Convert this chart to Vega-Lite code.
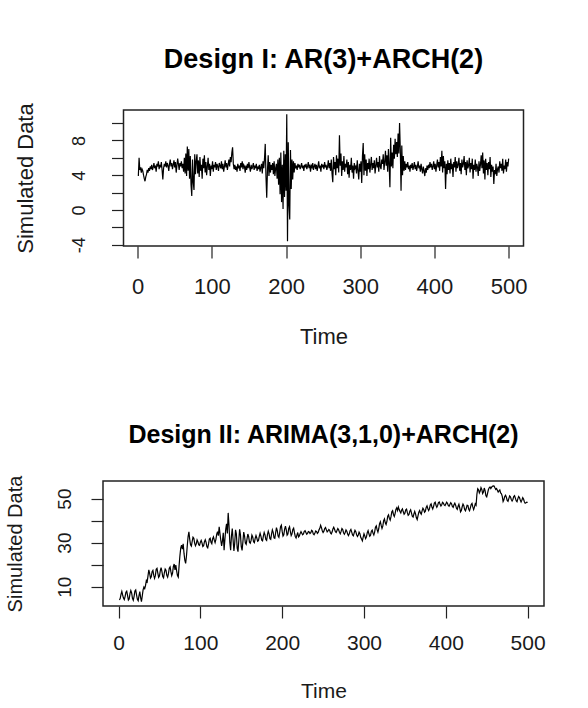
{
"$schema": "https://vega.github.io/schema/vega-lite/v6.json",
"background": "white",
"padding": {"left": 4, "top": 45, "right": 0, "bottom": 0},
"bounds": "flush",
"center": true,
"spacing": 235,
"data": {"values": [
{"t":1,"a":3.9,"b":4.0},{"t":2,"a":6.0,"b":4.6},{"t":3,"a":4.6,"b":6.5},{"t":4,"a":4.9,"b":7.8},{"t":5,"a":4.3,"b":6.2},
{"t":6,"a":4.7,"b":4.8},{"t":7,"a":4.5,"b":4.1},{"t":8,"a":4.0,"b":5.5},{"t":9,"a":3.6,"b":7.4},{"t":10,"a":3.3,"b":7.9},
{"t":11,"a":3.8,"b":6.0},{"t":12,"a":4.1,"b":3.9},{"t":13,"a":4.6,"b":4.4},{"t":14,"a":4.3,"b":6.8},{"t":15,"a":4.8,"b":8.2},
{"t":16,"a":4.5,"b":7.1},{"t":17,"a":5.0,"b":4.7},{"t":18,"a":4.7,"b":3.8},{"t":19,"a":5.2,"b":5.6},{"t":20,"a":4.6,"b":8.0},
{"t":21,"a":4.9,"b":8.5},{"t":22,"a":5.4,"b":6.3},{"t":23,"a":4.8,"b":4.2},{"t":24,"a":5.1,"b":3.6},{"t":25,"a":4.4,"b":5.9},
{"t":26,"a":5.3,"b":7.7},{"t":27,"a":5.0,"b":5.0},{"t":28,"a":5.6,"b":3.2},{"t":29,"a":4.7,"b":5.8},{"t":30,"a":5.2,"b":8.5},
{"t":31,"a":4.9,"b":9.8},{"t":32,"a":5.5,"b":9.1},{"t":33,"a":4.6,"b":10.6},{"t":34,"a":3.5,"b":12.8},{"t":35,"a":4.8,"b":12.2},
{"t":36,"a":5.3,"b":14.9},{"t":37,"a":5.0,"b":17.6},{"t":38,"a":5.6,"b":16.0},{"t":39,"a":4.9,"b":13.9},{"t":40,"a":5.4,"b":14.5},
{"t":41,"a":5.1,"b":16.8},{"t":42,"a":4.5,"b":17.4},{"t":43,"a":5.3,"b":15.2},{"t":44,"a":5.8,"b":13.8},{"t":45,"a":5.0,"b":15.0},
{"t":46,"a":5.4,"b":17.9},{"t":47,"a":4.7,"b":18.3},{"t":48,"a":5.2,"b":16.1},{"t":49,"a":5.7,"b":14.2},{"t":50,"a":4.9,"b":14.8},
{"t":51,"a":5.5,"b":17.2},{"t":52,"a":4.3,"b":18.6},{"t":53,"a":5.1,"b":16.9},{"t":54,"a":5.9,"b":14.6},{"t":55,"a":5.3,"b":14.0},
{"t":56,"a":4.6,"b":16.3},{"t":57,"a":5.4,"b":18.0},{"t":58,"a":5.0,"b":17.5},{"t":59,"a":5.6,"b":15.1},{"t":60,"a":4.8,"b":14.3},
{"t":61,"a":5.3,"b":15.9},{"t":62,"a":4.4,"b":18.4},{"t":63,"a":6.0,"b":19.0},{"t":64,"a":4.2,"b":16.8},{"t":65,"a":6.5,"b":15.0},
{"t":66,"a":3.9,"b":16.1},{"t":67,"a":7.3,"b":19.2},{"t":68,"a":4.5,"b":20.3},{"t":69,"a":7.0,"b":17.6},{"t":70,"a":3.6,"b":19.8},
{"t":71,"a":6.2,"b":17.2},{"t":72,"a":2.9,"b":15.0},{"t":73,"a":1.6,"b":14.3},{"t":74,"a":5.8,"b":19.5},{"t":75,"a":3.2,"b":24.0},
{"t":76,"a":2.3,"b":27.5},{"t":77,"a":6.4,"b":28.9},{"t":78,"a":4.1,"b":27.0},{"t":79,"a":5.6,"b":29.5},{"t":80,"a":6.4,"b":25.2},
{"t":81,"a":4.2,"b":22.0},{"t":82,"a":5.7,"b":20.6},{"t":83,"a":3.8,"b":23.8},{"t":84,"a":6.1,"b":28.6},{"t":85,"a":4.5,"b":32.8},
{"t":86,"a":5.2,"b":34.9},{"t":87,"a":3.6,"b":31.5},{"t":88,"a":5.9,"b":29.0},{"t":89,"a":4.8,"b":28.4},{"t":90,"a":6.3,"b":30.6},
{"t":91,"a":4.3,"b":32.5},{"t":92,"a":5.5,"b":32.0},{"t":93,"a":4.0,"b":29.8},{"t":94,"a":5.0,"b":28.6},{"t":95,"a":6.0,"b":29.5},
{"t":96,"a":4.6,"b":31.2},{"t":97,"a":5.3,"b":30.4},{"t":98,"a":3.9,"b":29.0},{"t":99,"a":5.1,"b":28.8},{"t":100,"a":4.7,"b":30.2},
{"t":101,"a":5.6,"b":31.0},{"t":102,"a":4.4,"b":29.9},{"t":103,"a":5.2,"b":28.2},{"t":104,"a":4.9,"b":28.6},{"t":105,"a":5.5,"b":30.4},
{"t":106,"a":4.6,"b":31.3},{"t":107,"a":5.3,"b":30.1},{"t":108,"a":5.0,"b":28.1},{"t":109,"a":4.5,"b":27.6},{"t":110,"a":5.4,"b":29.4},
{"t":111,"a":5.1,"b":31.6},{"t":112,"a":4.8,"b":32.0},{"t":113,"a":5.6,"b":30.2},{"t":114,"a":4.7,"b":29.5},{"t":115,"a":5.3,"b":31.8},
{"t":116,"a":4.4,"b":32.6},{"t":117,"a":5.0,"b":31.1},{"t":118,"a":5.7,"b":30.0},{"t":119,"a":4.9,"b":31.5},{"t":120,"a":5.4,"b":33.8},
{"t":121,"a":4.6,"b":35.0},{"t":122,"a":5.2,"b":33.2},{"t":123,"a":5.8,"b":37.2},{"t":124,"a":5.0,"b":34.0},{"t":125,"a":6.1,"b":31.0},
{"t":126,"a":5.5,"b":28.5},{"t":127,"a":6.6,"b":30.8},{"t":128,"a":7.2,"b":34.5},{"t":129,"a":5.3,"b":26.6},{"t":130,"a":4.7,"b":31.5},
{"t":131,"a":5.2,"b":36.0},{"t":132,"a":4.6,"b":38.5},{"t":133,"a":5.0,"b":34.2},{"t":134,"a":4.4,"b":43.5},{"t":135,"a":5.3,"b":37.8},
{"t":136,"a":4.8,"b":30.2},{"t":137,"a":5.1,"b":26.6},{"t":138,"a":4.5,"b":33.0},{"t":139,"a":5.4,"b":36.4},{"t":140,"a":4.9,"b":31.2},
{"t":141,"a":5.6,"b":26.2},{"t":142,"a":4.7,"b":29.8},{"t":143,"a":5.2,"b":35.8},{"t":144,"a":5.0,"b":34.0},{"t":145,"a":4.3,"b":27.5},
{"t":146,"a":5.1,"b":25.9},{"t":147,"a":4.6,"b":31.0},{"t":148,"a":5.3,"b":36.0},{"t":149,"a":4.8,"b":33.5},{"t":150,"a":5.5,"b":28.2},
{"t":151,"a":4.9,"b":26.5},{"t":152,"a":4.4,"b":30.4},{"t":153,"a":5.2,"b":34.8},{"t":154,"a":4.7,"b":33.0},{"t":155,"a":5.0,"b":29.8},
{"t":156,"a":5.4,"b":29.2},{"t":157,"a":4.6,"b":31.6},{"t":158,"a":5.1,"b":33.9},{"t":159,"a":4.8,"b":32.8},{"t":160,"a":5.3,"b":30.2},
{"t":161,"a":4.5,"b":29.7},{"t":162,"a":5.0,"b":31.0},{"t":163,"a":4.7,"b":33.4},{"t":164,"a":5.2,"b":32.6},{"t":165,"a":4.4,"b":30.4},
{"t":166,"a":4.9,"b":30.0},{"t":167,"a":5.3,"b":31.9},{"t":168,"a":4.2,"b":33.2},{"t":169,"a":5.6,"b":32.1},{"t":170,"a":4.8,"b":30.6},
{"t":171,"a":5.9,"b":30.9},{"t":172,"a":7.6,"b":32.8},{"t":173,"a":3.8,"b":34.2},{"t":174,"a":1.4,"b":32.9},{"t":175,"a":4.6,"b":31.1},
{"t":176,"a":6.3,"b":30.8},{"t":177,"a":3.9,"b":32.9},{"t":178,"a":5.5,"b":34.6},{"t":179,"a":4.3,"b":33.5},{"t":180,"a":5.2,"b":31.4},
{"t":181,"a":4.6,"b":31.0},{"t":182,"a":5.4,"b":33.6},{"t":183,"a":4.1,"b":35.2},{"t":184,"a":5.6,"b":34.0},{"t":185,"a":3.9,"b":31.8},
{"t":186,"a":4.8,"b":31.5},{"t":187,"a":5.3,"b":33.9},{"t":188,"a":3.6,"b":35.8},{"t":189,"a":5.8,"b":34.7},{"t":190,"a":2.9,"b":32.2},
{"t":191,"a":6.0,"b":32.0},{"t":192,"a":1.8,"b":34.5},{"t":193,"a":6.6,"b":36.8},{"t":194,"a":0.9,"b":35.4},{"t":195,"a":5.2,"b":33.0},
{"t":196,"a":0.1,"b":32.4},{"t":197,"a":6.8,"b":34.6},{"t":198,"a":1.5,"b":37.2},{"t":199,"a":6.4,"b":37.9},{"t":200,"a":2.2,"b":35.1},
{"t":201,"a":11.0,"b":33.0},{"t":202,"a":-3.6,"b":33.6},{"t":203,"a":7.8,"b":36.1},{"t":204,"a":0.5,"b":37.5},{"t":205,"a":-1.1,"b":35.8},
{"t":206,"a":6.9,"b":33.4},{"t":207,"a":2.4,"b":33.9},{"t":208,"a":5.8,"b":36.4},{"t":209,"a":3.5,"b":37.2},{"t":210,"a":5.6,"b":35.0},
{"t":211,"a":4.3,"b":33.2},{"t":212,"a":5.4,"b":34.0},{"t":213,"a":4.8,"b":36.0},{"t":214,"a":5.1,"b":36.6},{"t":215,"a":4.6,"b":34.5},
{"t":216,"a":5.3,"b":32.8},{"t":217,"a":4.9,"b":32.1},{"t":218,"a":5.2,"b":33.4},{"t":219,"a":4.7,"b":34.6},{"t":220,"a":5.0,"b":32.6},
{"t":221,"a":5.4,"b":33.0},{"t":222,"a":4.8,"b":34.2},{"t":223,"a":5.1,"b":35.0},{"t":224,"a":4.5,"b":34.3},{"t":225,"a":5.2,"b":33.6},
{"t":226,"a":4.9,"b":34.0},{"t":227,"a":5.3,"b":35.1},{"t":228,"a":4.7,"b":35.4},{"t":229,"a":5.0,"b":34.6},{"t":230,"a":5.5,"b":33.8},
{"t":231,"a":4.8,"b":34.2},{"t":232,"a":5.2,"b":35.0},{"t":233,"a":4.4,"b":34.8},{"t":234,"a":5.1,"b":34.1},{"t":235,"a":4.9,"b":34.5},
{"t":236,"a":5.4,"b":35.6},{"t":237,"a":4.6,"b":35.2},{"t":238,"a":5.0,"b":34.0},{"t":239,"a":5.3,"b":33.6},{"t":240,"a":4.7,"b":34.4},
{"t":241,"a":5.2,"b":35.3},{"t":242,"a":4.5,"b":35.0},{"t":243,"a":5.0,"b":34.2},{"t":244,"a":5.6,"b":34.6},{"t":245,"a":4.8,"b":35.8},
{"t":246,"a":5.1,"b":36.5},{"t":247,"a":4.4,"b":37.9},{"t":248,"a":5.3,"b":36.8},{"t":249,"a":4.9,"b":35.4},{"t":250,"a":5.2,"b":34.6},
{"t":251,"a":4.7,"b":35.2},{"t":252,"a":5.5,"b":36.4},{"t":253,"a":4.9,"b":36.9},{"t":254,"a":5.2,"b":35.8},{"t":255,"a":4.6,"b":34.9},
{"t":256,"a":5.0,"b":35.3},{"t":257,"a":5.7,"b":36.0},{"t":258,"a":4.8,"b":35.6},{"t":259,"a":5.4,"b":34.4},{"t":260,"a":4.5,"b":34.0},
{"t":261,"a":5.8,"b":34.8},{"t":262,"a":4.2,"b":36.2},{"t":263,"a":3.2,"b":37.0},{"t":264,"a":6.1,"b":36.1},{"t":265,"a":4.7,"b":35.0},
{"t":266,"a":5.5,"b":34.6},{"t":267,"a":4.0,"b":35.5},{"t":268,"a":6.3,"b":36.4},{"t":269,"a":4.8,"b":35.8},{"t":270,"a":5.9,"b":34.7},
{"t":271,"a":4.3,"b":34.0},{"t":272,"a":8.6,"b":35.1},{"t":273,"a":5.1,"b":36.4},{"t":274,"a":6.5,"b":35.9},{"t":275,"a":3.9,"b":34.5},
{"t":276,"a":5.6,"b":33.8},{"t":277,"a":4.6,"b":34.6},{"t":278,"a":6.2,"b":35.8},{"t":279,"a":4.4,"b":35.2},{"t":280,"a":5.3,"b":33.9},
{"t":281,"a":4.9,"b":33.2},{"t":282,"a":5.8,"b":34.0},{"t":283,"a":4.1,"b":35.4},{"t":284,"a":5.5,"b":36.0},{"t":285,"a":3.7,"b":34.8},
{"t":286,"a":5.2,"b":33.5},{"t":287,"a":4.6,"b":33.1},{"t":288,"a":6.0,"b":34.4},{"t":289,"a":4.3,"b":35.6},{"t":290,"a":5.1,"b":35.0},
{"t":291,"a":3.6,"b":33.6},{"t":292,"a":5.4,"b":32.8},{"t":293,"a":4.8,"b":33.5},{"t":294,"a":5.0,"b":34.8},{"t":295,"a":4.2,"b":34.1},
{"t":296,"a":5.7,"b":32.4},{"t":297,"a":4.5,"b":31.6},{"t":298,"a":3.5,"b":30.8},{"t":299,"a":5.3,"b":32.5},{"t":300,"a":4.4,"b":34.0},
{"t":301,"a":5.6,"b":33.0},{"t":302,"a":3.1,"b":31.8},{"t":303,"a":6.2,"b":32.6},{"t":304,"a":7.7,"b":34.5},{"t":305,"a":4.0,"b":35.4},
{"t":306,"a":6.4,"b":34.0},{"t":307,"a":4.5,"b":32.9},{"t":308,"a":5.8,"b":33.4},{"t":309,"a":3.9,"b":35.2},{"t":310,"a":5.4,"b":35.7},
{"t":311,"a":4.7,"b":34.3},{"t":312,"a":5.9,"b":33.5},{"t":313,"a":4.3,"b":34.8},{"t":314,"a":5.2,"b":37.0},{"t":315,"a":6.1,"b":37.6},
{"t":316,"a":4.6,"b":35.9},{"t":317,"a":5.4,"b":34.8},{"t":318,"a":4.8,"b":36.3},{"t":319,"a":5.7,"b":38.6},{"t":320,"a":4.2,"b":39.5},
{"t":321,"a":5.1,"b":37.8},{"t":322,"a":6.0,"b":36.4},{"t":323,"a":4.9,"b":37.5},{"t":324,"a":5.5,"b":40.0},{"t":325,"a":4.4,"b":40.8},
{"t":326,"a":6.2,"b":39.0},{"t":327,"a":5.0,"b":38.2},{"t":328,"a":4.7,"b":39.6},{"t":329,"a":5.8,"b":42.0},{"t":330,"a":5.3,"b":42.6},
{"t":331,"a":6.4,"b":41.0},{"t":332,"a":4.6,"b":40.2},{"t":333,"a":5.5,"b":41.8},{"t":334,"a":6.8,"b":44.0},{"t":335,"a":5.1,"b":44.5},
{"t":336,"a":6.3,"b":42.8},{"t":337,"a":4.4,"b":41.9},{"t":338,"a":7.0,"b":43.2},{"t":339,"a":5.2,"b":45.1},{"t":340,"a":2.6,"b":45.8},
{"t":341,"a":8.3,"b":44.6},{"t":342,"a":5.0,"b":46.2},{"t":343,"a":6.6,"b":45.0},{"t":344,"a":4.8,"b":44.2},{"t":345,"a":7.5,"b":43.5},
{"t":346,"a":5.9,"b":44.8},{"t":347,"a":8.2,"b":45.3},{"t":348,"a":6.4,"b":44.0},{"t":349,"a":7.8,"b":42.9},{"t":350,"a":6.1,"b":43.4},
{"t":351,"a":8.8,"b":44.9},{"t":352,"a":6.5,"b":45.2},{"t":353,"a":10.0,"b":43.6},{"t":354,"a":6.9,"b":42.4},{"t":355,"a":2.2,"b":42.8},
{"t":356,"a":7.4,"b":44.3},{"t":357,"a":4.0,"b":44.9},{"t":358,"a":6.2,"b":43.5},{"t":359,"a":4.5,"b":42.0},{"t":360,"a":5.6,"b":41.6},
{"t":361,"a":4.6,"b":43.0},{"t":362,"a":5.3,"b":44.2},{"t":363,"a":4.9,"b":43.1},{"t":364,"a":5.5,"b":41.3},{"t":365,"a":4.7,"b":40.5},
{"t":366,"a":5.1,"b":42.2},{"t":367,"a":4.4,"b":43.8},{"t":368,"a":5.2,"b":44.6},{"t":369,"a":4.8,"b":43.5},{"t":370,"a":5.4,"b":42.9},
{"t":371,"a":4.6,"b":44.4},{"t":372,"a":5.0,"b":45.6},{"t":373,"a":5.5,"b":45.0},{"t":374,"a":4.7,"b":43.8},{"t":375,"a":5.2,"b":44.3},
{"t":376,"a":4.5,"b":46.0},{"t":377,"a":5.0,"b":46.7},{"t":378,"a":5.6,"b":45.5},{"t":379,"a":4.8,"b":44.6},{"t":380,"a":5.1,"b":45.4},
{"t":381,"a":4.4,"b":47.1},{"t":382,"a":5.3,"b":47.6},{"t":383,"a":4.7,"b":46.2},{"t":384,"a":4.2,"b":45.3},{"t":385,"a":5.0,"b":46.4},
{"t":386,"a":4.5,"b":48.0},{"t":387,"a":3.9,"b":48.4},{"t":388,"a":4.8,"b":47.0},{"t":389,"a":4.3,"b":46.1},{"t":390,"a":5.1,"b":46.9},
{"t":391,"a":4.6,"b":48.2},{"t":392,"a":5.2,"b":48.5},{"t":393,"a":4.8,"b":47.4},{"t":394,"a":5.5,"b":46.6},{"t":395,"a":4.9,"b":47.2},
{"t":396,"a":5.3,"b":48.3},{"t":397,"a":4.6,"b":48.0},{"t":398,"a":5.0,"b":47.1},{"t":399,"a":5.6,"b":46.8},{"t":400,"a":4.7,"b":47.6},
{"t":401,"a":5.3,"b":48.4},{"t":402,"a":4.4,"b":47.9},{"t":403,"a":5.1,"b":46.9},{"t":404,"a":5.8,"b":46.5},{"t":405,"a":4.9,"b":47.3},
{"t":406,"a":5.5,"b":48.1},{"t":407,"a":4.5,"b":47.6},{"t":408,"a":6.1,"b":46.4},{"t":409,"a":5.0,"b":46.0},{"t":410,"a":6.8,"b":47.2},
{"t":411,"a":4.3,"b":47.9},{"t":412,"a":6.2,"b":47.0},{"t":413,"a":4.8,"b":45.6},{"t":414,"a":5.6,"b":45.1},{"t":415,"a":2.4,"b":46.5},
{"t":416,"a":5.3,"b":47.4},{"t":417,"a":4.1,"b":45.8},{"t":418,"a":5.7,"b":44.0},{"t":419,"a":4.6,"b":44.6},{"t":420,"a":5.4,"b":46.3},
{"t":421,"a":4.2,"b":47.5},{"t":422,"a":5.9,"b":46.8},{"t":423,"a":4.7,"b":45.0},{"t":424,"a":5.3,"b":44.4},{"t":425,"a":3.8,"b":45.6},
{"t":426,"a":5.5,"b":47.0},{"t":427,"a":4.9,"b":46.9},{"t":428,"a":6.1,"b":45.2},{"t":429,"a":4.4,"b":44.5},{"t":430,"a":5.6,"b":45.8},
{"t":431,"a":4.8,"b":47.3},{"t":432,"a":5.2,"b":47.8},{"t":433,"a":6.0,"b":46.2},{"t":434,"a":4.5,"b":45.0},{"t":435,"a":5.4,"b":46.1},
{"t":436,"a":4.1,"b":47.6},{"t":437,"a":5.8,"b":47.0},{"t":438,"a":4.9,"b":52.0},{"t":439,"a":5.3,"b":54.5},{"t":440,"a":6.2,"b":54.0},
{"t":441,"a":4.6,"b":52.6},{"t":442,"a":5.5,"b":53.4},{"t":443,"a":4.0,"b":55.0},{"t":444,"a":5.7,"b":54.2},{"t":445,"a":4.8,"b":52.3},
{"t":446,"a":5.1,"b":53.0},{"t":447,"a":6.0,"b":54.8},{"t":448,"a":4.3,"b":53.6},{"t":449,"a":5.4,"b":51.3},{"t":450,"a":4.7,"b":50.8},
{"t":451,"a":5.9,"b":52.4},{"t":452,"a":3.6,"b":54.0},{"t":453,"a":5.2,"b":54.9},{"t":454,"a":4.6,"b":55.3},{"t":455,"a":5.8,"b":54.6},
{"t":456,"a":4.4,"b":55.2},{"t":457,"a":5.3,"b":55.6},{"t":458,"a":4.9,"b":55.8},{"t":459,"a":3.9,"b":55.7},{"t":460,"a":5.6,"b":54.9},
{"t":461,"a":4.5,"b":54.2},{"t":462,"a":5.2,"b":54.6},{"t":463,"a":6.3,"b":53.8},{"t":464,"a":4.8,"b":53.0},{"t":465,"a":6.6,"b":53.5},
{"t":466,"a":4.2,"b":53.9},{"t":467,"a":5.7,"b":52.6},{"t":468,"a":3.5,"b":52.2},{"t":469,"a":5.9,"b":51.0},{"t":470,"a":4.6,"b":48.7},
{"t":471,"a":5.4,"b":49.5},{"t":472,"a":4.0,"b":51.0},{"t":473,"a":5.5,"b":51.5},{"t":474,"a":4.7,"b":50.6},{"t":475,"a":6.1,"b":49.2},
{"t":476,"a":3.8,"b":48.8},{"t":477,"a":5.2,"b":50.0},{"t":478,"a":4.4,"b":51.2},{"t":479,"a":5.0,"b":50.8},{"t":480,"a":3.0,"b":49.6},
{"t":481,"a":4.6,"b":48.9},{"t":482,"a":4.1,"b":49.6},{"t":483,"a":5.3,"b":50.9},{"t":484,"a":3.9,"b":51.3},{"t":485,"a":4.7,"b":50.2},
{"t":486,"a":5.0,"b":49.0},{"t":487,"a":4.3,"b":48.6},{"t":488,"a":5.6,"b":49.9},{"t":489,"a":4.8,"b":51.0},{"t":490,"a":5.3,"b":50.5},
{"t":491,"a":4.5,"b":49.4},{"t":492,"a":5.9,"b":48.5},{"t":493,"a":4.2,"b":49.3},{"t":494,"a":5.1,"b":50.4},{"t":495,"a":4.7,"b":49.8},
{"t":496,"a":5.8,"b":48.6},{"t":497,"a":4.4,"b":47.9},{"t":498,"a":5.5,"b":48.1},{"t":499,"a":5.0,"b":48.4},{"t":500,"a":5.9,"b":48.2}
]},
"vconcat": [
{
"title": {"text": "Design I: AR(3)+ARCH(2)", "fontSize": 27, "offset": 29},
"width": 400,
"height": 136,
"mark": {"type": "line", "color": "black", "strokeWidth": 1.2, "clip": true},
"encoding": {
"x": {"field": "t", "type": "quantitative",
"scale": {"domain": [-19, 520], "nice": false, "zero": false},
"axis": {"values": [0, 100, 200, 300, 400, 500], "title": "Time", "labelFontSize": 22, "labelBaseline": "middle", "labelPadding": 28, "titleFontSize": 22, "titlePadding": 29}},
"y": {"field": "a", "type": "quantitative",
"scale": {"domain": [-4.15, 11.5], "nice": false, "zero": false},
"axis": {"values": [-4, -2, 0, 2, 4, 6, 8, 10], "labelExpr": "datum.value % 4 == 0 ? '' + datum.value : ''", "title": "Simulated Data", "labelAngle": -90, "labelAlign": "center", "labelBaseline": "middle", "labelFontSize": 18, "labelPadding": 32, "titleFontSize": 22, "titlePadding": 33}}
}
},
{
"title": {"text": "Design II: ARIMA(3,1,0)+ARCH(2)", "fontSize": 25, "offset": 27},
"width": 441,
"height": 125,
"mark": {"type": "line", "color": "black", "strokeWidth": 1.2, "clip": true},
"encoding": {
"x": {"field": "t", "type": "quantitative",
"scale": {"domain": [-19, 520], "nice": false, "zero": false},
"axis": {"values": [0, 100, 200, 300, 400, 500], "title": "Time", "labelFontSize": 21, "labelBaseline": "middle", "labelPadding": 25, "titleFontSize": 21, "titlePadding": 27}},
"y": {"field": "b", "type": "quantitative",
"scale": {"domain": [1.2, 58], "nice": false, "zero": false},
"axis": {"values": [10, 20, 30, 40, 50], "labelExpr": "datum.value % 20 == 10 ? '' + datum.value : ''", "title": "Simulated Data", "labelAngle": -90, "labelAlign": "center", "labelBaseline": "middle", "labelFontSize": 19, "labelPadding": 27, "titleFontSize": 20, "titlePadding": 30}}
}
}
],
"config": {
"font": "Liberation Sans",
"view": {"stroke": "#222222", "strokeWidth": 1.5},
"axis": {"grid": false, "domain": false, "tickSize": 12, "tickColor": "#222222", "tickWidth": 1.2, "labelFont": "Liberation Sans", "labelColor": "#1a1a1a", "titleFont": "Liberation Sans", "titleFontWeight": "normal", "titleColor": "#1a1a1a", "labelFlush": false, "labelOverlap": false},
"title": {"font": "Liberation Sans", "fontWeight": "bold", "color": "#000000", "anchor": "middle"}
}
}
